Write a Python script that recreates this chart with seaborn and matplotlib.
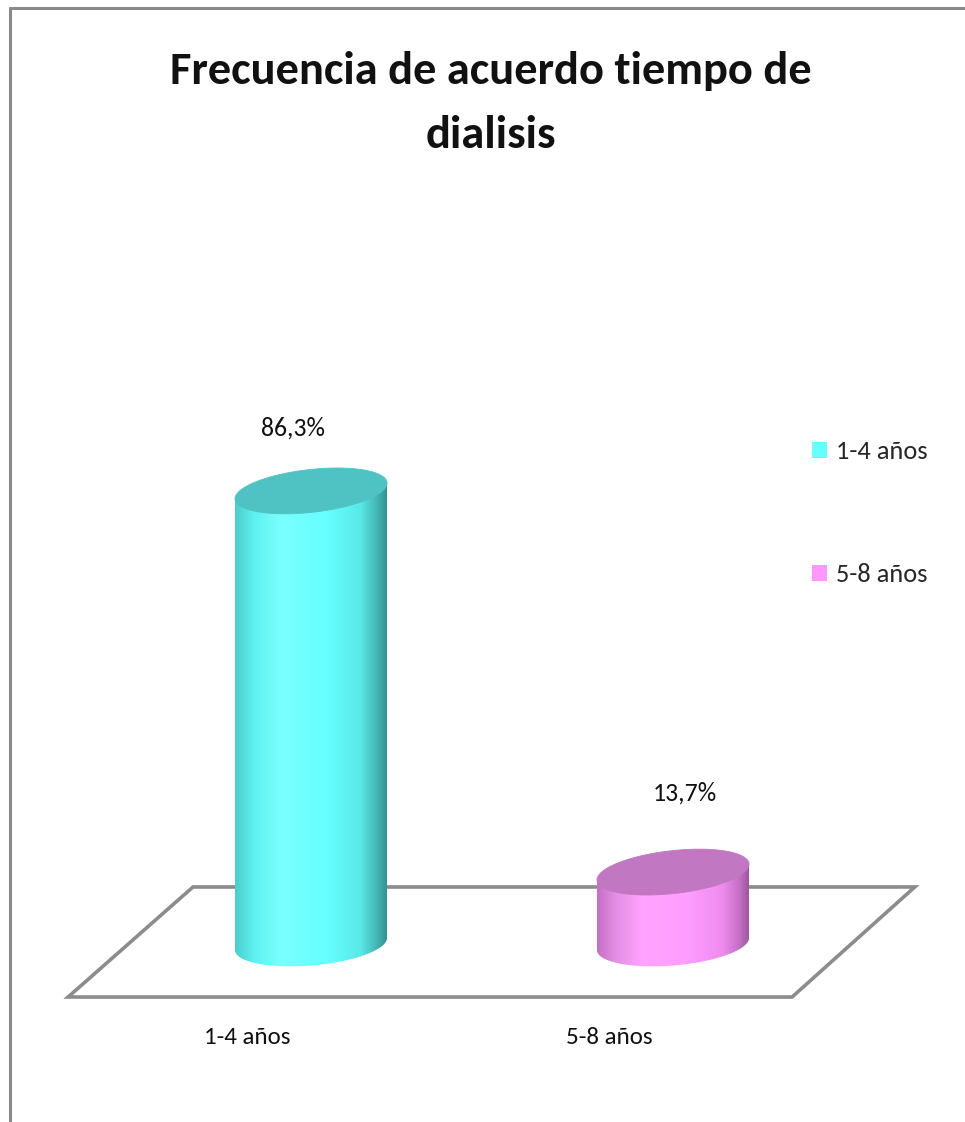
import numpy as np
import matplotlib
matplotlib.use("Agg")
import matplotlib.pyplot as plt
import seaborn as sns
from matplotlib.patches import Polygon, Patch
from matplotlib.lines import Line2D
from matplotlib.colors import LinearSegmentedColormap

# ---- data -------------------------------------------------------------
categories = ["1-4 años", "5-8 años"]
values = [86.3, 13.7]
value_labels = ["86,3%", "13,7%"]
title_lines = ["Frecuencia de acuerdo tiempo de", "dialisis"]

# ---- styling ----------------------------------------------------------
side_ramps = [
    [(0.00, "#4ccccc"), (0.12, "#5ff0f0"), (0.30, "#7affff"),
     (0.60, "#66ffff"), (0.82, "#5ae8e8"), (0.93, "#45b4b4"), (1.00, "#2f8f8f")],
    [(0.00, "#c46ec4"), (0.12, "#e48ee4"), (0.30, "#ffa4ff"),
     (0.60, "#ff9cff"), (0.82, "#f08cf0"), (0.93, "#c670c6"), (1.00, "#9a559a")],
]
top_colors = ["#4fc3c3", "#c177c1"]
legend_colors = ["#66ffff", "#ff99ff"]
label_dx = [-0.05, 0.032]
label_dy = [12.0, 15.0]

sns.set_theme(style="white")
plt.rcParams["font.family"] = ["Carlito", "DejaVu Sans"]

W, H = 965, 1122
fig = plt.figure(figsize=(W / 100, H / 100), dpi=100)
fig.patch.set_facecolor("white")

ax = fig.add_axes([130 / W, 115 / H, 724 / W, 588 / H])
sns.barplot(x=categories, y=values, hue=categories, palette=legend_colors,
            width=0.42, saturation=1, legend=False, ax=ax)
ax.set_xlim(-0.5, 1.5)
ax.set_ylim(-12, 100)
ax.set_xticks([])
ax.set_yticks([])
ax.set_xlabel("")
ax.set_ylabel("")
for s in ax.spines.values():
    s.set_visible(False)
ax.patch.set_alpha(0)

# floor of the 3-D plot area
floor = Polygon([(-0.671, -10.1), (1.329, -10.1), (1.668, 10.86), (-0.326, 10.86)],
                closed=True, facecolor="white", edgecolor="#8c8c8c", lw=2.6,
                zorder=0.5, clip_on=False)
ax.add_patch(floor)

b_ell = 4.1      # half-height of cylinder caps (data units)
k_top = 1.5      # perspective tilt of the top cap
k_bot = 1.15     # perspective tilt of the base cap


def cap(xc, yc, a, b, k, t):
    return xc + a * np.cos(t), yc + b * np.sin(t) + k * np.cos(t)


bars = [p for p in ax.patches if p is not floor]
for i, p in enumerate(bars):
    x0, w, v = p.get_x(), p.get_width(), p.get_height()
    xc, a = x0 + w / 2, w / 2
    p.set_visible(False)

    # cylinder side: straight edges plus the front half of the base ellipse
    t = np.linspace(np.pi, 2 * np.pi, 120)
    bx, by = cap(xc, 0, a, b_ell, k_bot, t)
    pts = [(x0, v - k_top)] + list(zip(bx, by)) + [(x0 + w, v + k_top)]
    body = Polygon(pts, closed=True, facecolor="none", edgecolor="none", zorder=2)
    ax.add_patch(body)

    cmap = LinearSegmentedColormap.from_list(f"side{i}", side_ramps[i])
    ramp = np.linspace(0, 1, 256)[None, :]
    im = ax.imshow(ramp, cmap=cmap, aspect="auto", interpolation="bilinear",
                   extent=[x0, x0 + w, -b_ell - 2, v + 2], zorder=2)
    im.set_clip_path(body)

    # top cap
    t2 = np.linspace(0, 2 * np.pi, 240)
    tx, ty = cap(xc, v, a, b_ell, k_top, t2)
    ax.add_patch(Polygon(list(zip(tx, ty)), closed=True, facecolor=top_colors[i],
                         edgecolor=top_colors[i], lw=0.6, zorder=3))

    ax.text(xc + label_dx[i], v + label_dy[i], value_labels[i],
            ha="center", va="center", fontsize=18.5, color="#111111", zorder=4)
    ax.text(xc - 0.175, -17.9, categories[i], ha="center", va="center",
            fontsize=18, color="#111111", clip_on=False)

ax.set_xlim(-0.5, 1.5)
ax.set_ylim(-12, 100)

# legend
handles = [Patch(facecolor=c, edgecolor="none") for c in legend_colors]
fig.legend(handles, categories, loc="upper left",
           bbox_to_anchor=(812 / W, 1 - 440 / H), frameon=False,
           fontsize=19, handlelength=0.55, handleheight=0.55,
           handletextpad=0.35, labelspacing=3.8, borderpad=0,
           borderaxespad=0)

# title
fig.text(491 / W, 1 - 71 / H, title_lines[0], ha="center", va="center",
         fontsize=33.5, fontweight="bold", color="#111111")
fig.text(491 / W, 1 - 135 / H, title_lines[1], ha="center", va="center",
         fontsize=33.5, fontweight="bold", color="#111111")

# chart frame (top and left edges)
fig.add_artist(Line2D([9.5 / W, 9.5 / W], [0, 1 - 8 / H], transform=fig.transFigure,
                      color="#8a8a8a", lw=2.2))
fig.add_artist(Line2D([9.5 / W, 1], [1 - 8 / H, 1 - 8 / H], transform=fig.transFigure,
                      color="#8a8a8a", lw=2.2))

fig.savefig("out.png", dpi=100, facecolor="white")
